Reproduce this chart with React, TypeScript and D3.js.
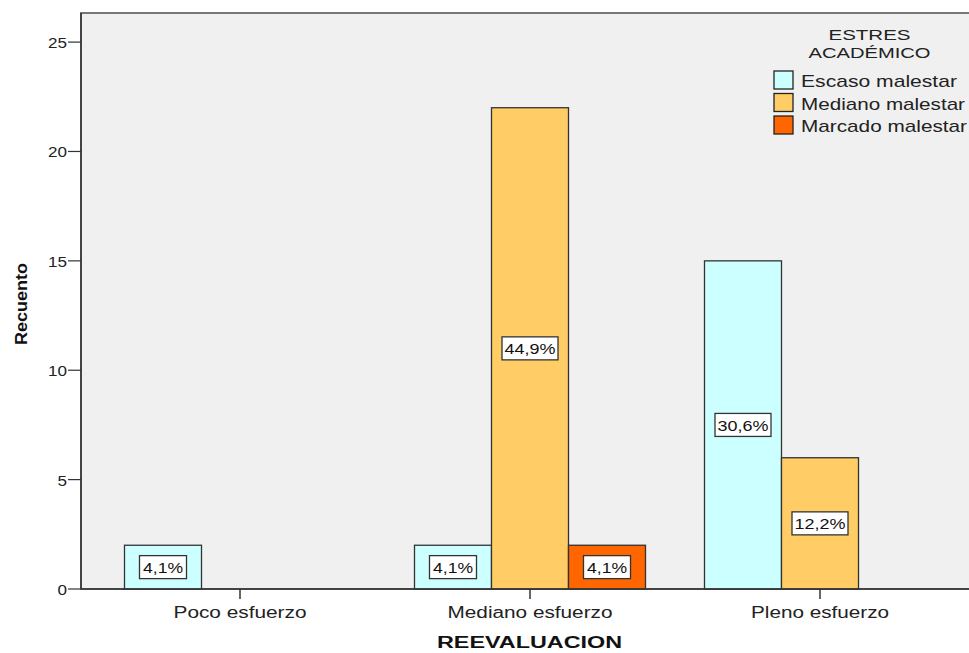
import React from "react";
import * as d3 from "d3";

const categories = ["Poco esfuerzo", "Mediano esfuerzo", "Pleno esfuerzo"];
const seriesNames = ["Escaso malestar", "Mediano malestar", "Marcado malestar"];
const seriesColors = ["#ccffff", "#ffcc66", "#ff6600"];
const escaso = [2, 2, 15];
const mediano = [0, 22, 6];
const marcado = [0, 2, 0];
const escasoLabels = ["4,1%", "4,1%", "30,6%"];
const medianoLabels = ["", "44,9%", "12,2%"];
const marcadoLabels = ["", "4,1%", ""];
const yTicks = [0, 5, 10, 15, 20, 25];

const W = 969, H = 653;
const plotL = 81, plotT = 13, plotB = 589, plotR = 975;
const FONT = "'Liberation Sans', Arial, sans-serif";

const catWidths = [133, 165, 138];

export default function App() {
  const y = d3.scaleLinear().domain([0, 26.33]).range([plotB, plotT]);
  const x = d3.scaleBand().domain(categories).range([95, 965]).padding(0);
  const sub = d3.scaleBand().domain(seriesNames).range([0, 231]);
  const seriesVals = [escaso, mediano, marcado];
  const seriesLabels = [escasoLabels, medianoLabels, marcadoLabels];

  return (
    <svg width={W} height={H} style={{ position: "absolute", left: 0, top: 0 }} fontFamily={FONT}>
      <rect x={plotL} y={plotT} width={plotR - plotL} height={plotB - plotT} fill="#f0f0f0" stroke="#777" strokeWidth={2} />
      {categories.map((c, ci) => {
        const cx = (x(c) as number) + x.bandwidth() / 2;
        const gx = cx - 115.5;
        return (
          <g key={c}>
            {seriesNames.map((s, si) => {
              const v = seriesVals[si][ci];
              if (!v) return null;
              const bx = gx + (sub(s) as number);
              return (
                <rect key={s} x={bx} y={y(v)} width={sub.bandwidth()} height={y(0) - y(v)} fill={seriesColors[si]} stroke="#333" strokeWidth={1.3} />
              );
            })}
            {seriesNames.map((s, si) => {
              const v = seriesVals[si][ci];
              const lab = seriesLabels[si][ci];
              if (!v || !lab) return null;
              const bx = gx + (sub(s) as number) + sub.bandwidth() / 2;
              const by = y(v / 2);
              const long = lab.length > 4;
              const w = long ? 56 : 47;
              return (
                <g key={s + "l"}>
                  <rect x={bx - w / 2} y={by - 11.5} width={w} height={23} fill="#fff" stroke="#333" strokeWidth={1.3} />
                  <text x={bx} y={by + 6} textAnchor="middle" fontSize={15} fill="#111" textLength={long ? 51 : 40} lengthAdjust="spacingAndGlyphs">{lab}</text>
                </g>
              );
            })}
            <line x1={cx} x2={cx} y1={plotB} y2={plotB + 10} stroke="#333" strokeWidth={1.5} />
            <text x={cx} y={618} textAnchor="middle" fontSize={16} fill="#222" textLength={catWidths[ci]} lengthAdjust="spacingAndGlyphs">{c}</text>
          </g>
        );
      })}
      <line x1={plotL} x2={W} y1={plotB} y2={plotB} stroke="#333" strokeWidth={1.5} />
      <line x1={plotL} x2={plotL} y1={plotT} y2={plotB} stroke="#333" strokeWidth={1.5} />
      {yTicks.map((t) => (
        <g key={t}>
          <line x1={plotL - 13} x2={plotL} y1={y(t)} y2={y(t)} stroke="#333" strokeWidth={1.2} />
          <text x={plotL - 14} y={y(t) + 6} textAnchor="end" fontSize={15} fill="#222" textLength={t >= 10 ? 19 : 9.5} lengthAdjust="spacingAndGlyphs">{t}</text>
        </g>
      ))}
      <text transform={`translate(27,304) rotate(-90)`} textAnchor="middle" fontSize={16} fontWeight="bold" fill="#111" textLength={82} lengthAdjust="spacingAndGlyphs">Recuento</text>
      <text x={529.5} y={648} textAnchor="middle" fontSize={16} fontWeight="bold" fill="#111" textLength={185} lengthAdjust="spacingAndGlyphs">REEVALUACION</text>
      <text x={869.5} y={40} textAnchor="middle" fontSize={15.5} fill="#222" textLength={82} lengthAdjust="spacingAndGlyphs">ESTRES</text>
      <text x={869.5} y={58} textAnchor="middle" fontSize={15.5} fill="#222" textLength={122} lengthAdjust="spacingAndGlyphs">ACADÉMICO</text>
      {seriesNames.map((s, i) => (
        <g key={s}>
          <rect x={774} y={71 + i * 22.5} width={19} height={18} fill={seriesColors[i]} stroke="#222" strokeWidth={1.3} />
          <text x={801} y={87 + i * 22.5} fontSize={17} fill="#222" textLength={i === 0 ? 156 : i === 1 ? 164 : 166} lengthAdjust="spacingAndGlyphs">{s}</text>
        </g>
      ))}
    </svg>
  );
}
